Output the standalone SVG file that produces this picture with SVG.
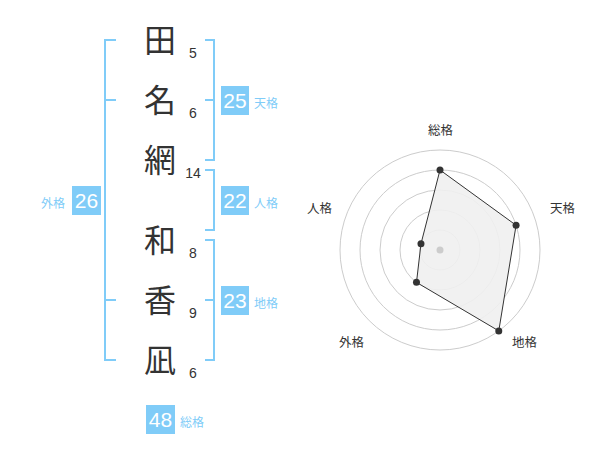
<svg xmlns="http://www.w3.org/2000/svg" width="600" height="470" viewBox="0 0 600 470">
<style>
.k{font-family:"Noto Sans CJK JP","Noto Sans CJK SC",sans-serif;font-size:32px;fill:#333;text-anchor:middle}
.n{font-family:"Liberation Sans",Arial,sans-serif;font-size:14px;fill:#333;text-anchor:middle}
.br{fill:none;stroke:#80ccf8;stroke-width:2}
.box{fill:#80ccf8}
.bn{font-family:"Liberation Sans",Arial,sans-serif;font-size:21px;fill:#fff;text-anchor:middle}
.bl{font-family:"Noto Sans CJK JP","Noto Sans CJK SC",sans-serif;font-size:12px;fill:#80ccf8}
.ring{fill:none;stroke:#ccc;stroke-width:1}
.rl{font-family:"Noto Sans CJK JP","Noto Sans CJK SC",sans-serif;font-size:12.5px;fill:#333;text-anchor:middle}
.pt{fill:#333}
</style>
<g id="name">
<g id="c1"><text class="k" x="160" y="52">田</text><text class="n" x="193" y="57.5">5</text></g>
<g id="c2"><text class="k" x="160" y="112">名</text><text class="n" x="193" y="117.5">6</text></g>
<g id="c3"><text class="k" x="160" y="172">網</text><text class="n" x="193" y="177.5">14</text></g>
<g id="c4"><text class="k" x="160" y="252">和</text><text class="n" x="193" y="257.5">8</text></g>
<g id="c5"><text class="k" x="160" y="312">香</text><text class="n" x="193" y="317.5">9</text></g>
<g id="c6"><text class="k" x="160" y="372">凪</text><text class="n" x="193" y="377.5">6</text></g>
</g>
<g id="connectors">
<path class="br" d="M116,40H105V360H116M105,100H116M105,300H116"/>
<path class="br" d="M205,40H214V160H205M214,100H205"/>
<path class="br" d="M205,170H214V230H205"/>
<path class="br" d="M205,240H214V360H205M214,300H205"/>
</g>
<g id="tenkaku"><rect class="box" x="221" y="86" width="28" height="29"/><text class="bn" x="235" y="108">25</text><text class="bl" x="254" y="108">天格</text></g>
<g id="jinkaku"><rect class="box" x="221" y="186" width="28" height="29"/><text class="bn" x="235" y="208">22</text><text class="bl" x="254" y="208">人格</text></g>
<g id="chikaku"><rect class="box" x="221" y="286" width="28" height="29"/><text class="bn" x="235" y="308">23</text><text class="bl" x="254" y="308">地格</text></g>
<g id="gaikaku"><rect class="box" x="72" y="186" width="29" height="29"/><text class="bn" x="86.5" y="208">26</text><text class="bl" x="41" y="208">外格</text></g>
<g id="soukaku"><rect class="box" x="146" y="405" width="29" height="29"/><text class="bn" x="160.5" y="427">48</text><text class="bl" x="180" y="427">総格</text></g>
<g id="radar">
<circle class="ring" cx="440" cy="250" r="20"/>
<circle class="ring" cx="440" cy="250" r="40"/>
<circle class="ring" cx="440" cy="250" r="60"/>
<circle class="ring" cx="440" cy="250" r="80"/>
<circle class="ring" cx="440" cy="250" r="100"/>
<polygon points="440,170 516.08,225.28 498.78,330.9 416.49,282.36 420.98,243.82" fill="#efefef" fill-opacity="0.9" stroke="#333" stroke-width="1"/>
<circle cx="440" cy="250" r="3.5" fill="#ccc"/>
<circle class="pt" cx="440" cy="170" r="3.5"/>
<circle class="pt" cx="516.08" cy="225.28" r="3.5"/>
<circle class="pt" cx="498.78" cy="330.9" r="3.5"/>
<circle class="pt" cx="416.49" cy="282.36" r="3.5"/>
<circle class="pt" cx="420.98" cy="243.82" r="3.5"/>
<text class="rl" x="440.5" y="135">総格</text>
<text class="rl" x="562.5" y="213">天格</text>
<text class="rl" x="524.5" y="347">地格</text>
<text class="rl" x="351.5" y="347">外格</text>
<text class="rl" x="319.5" y="213">人格</text>
</g>
</svg>
